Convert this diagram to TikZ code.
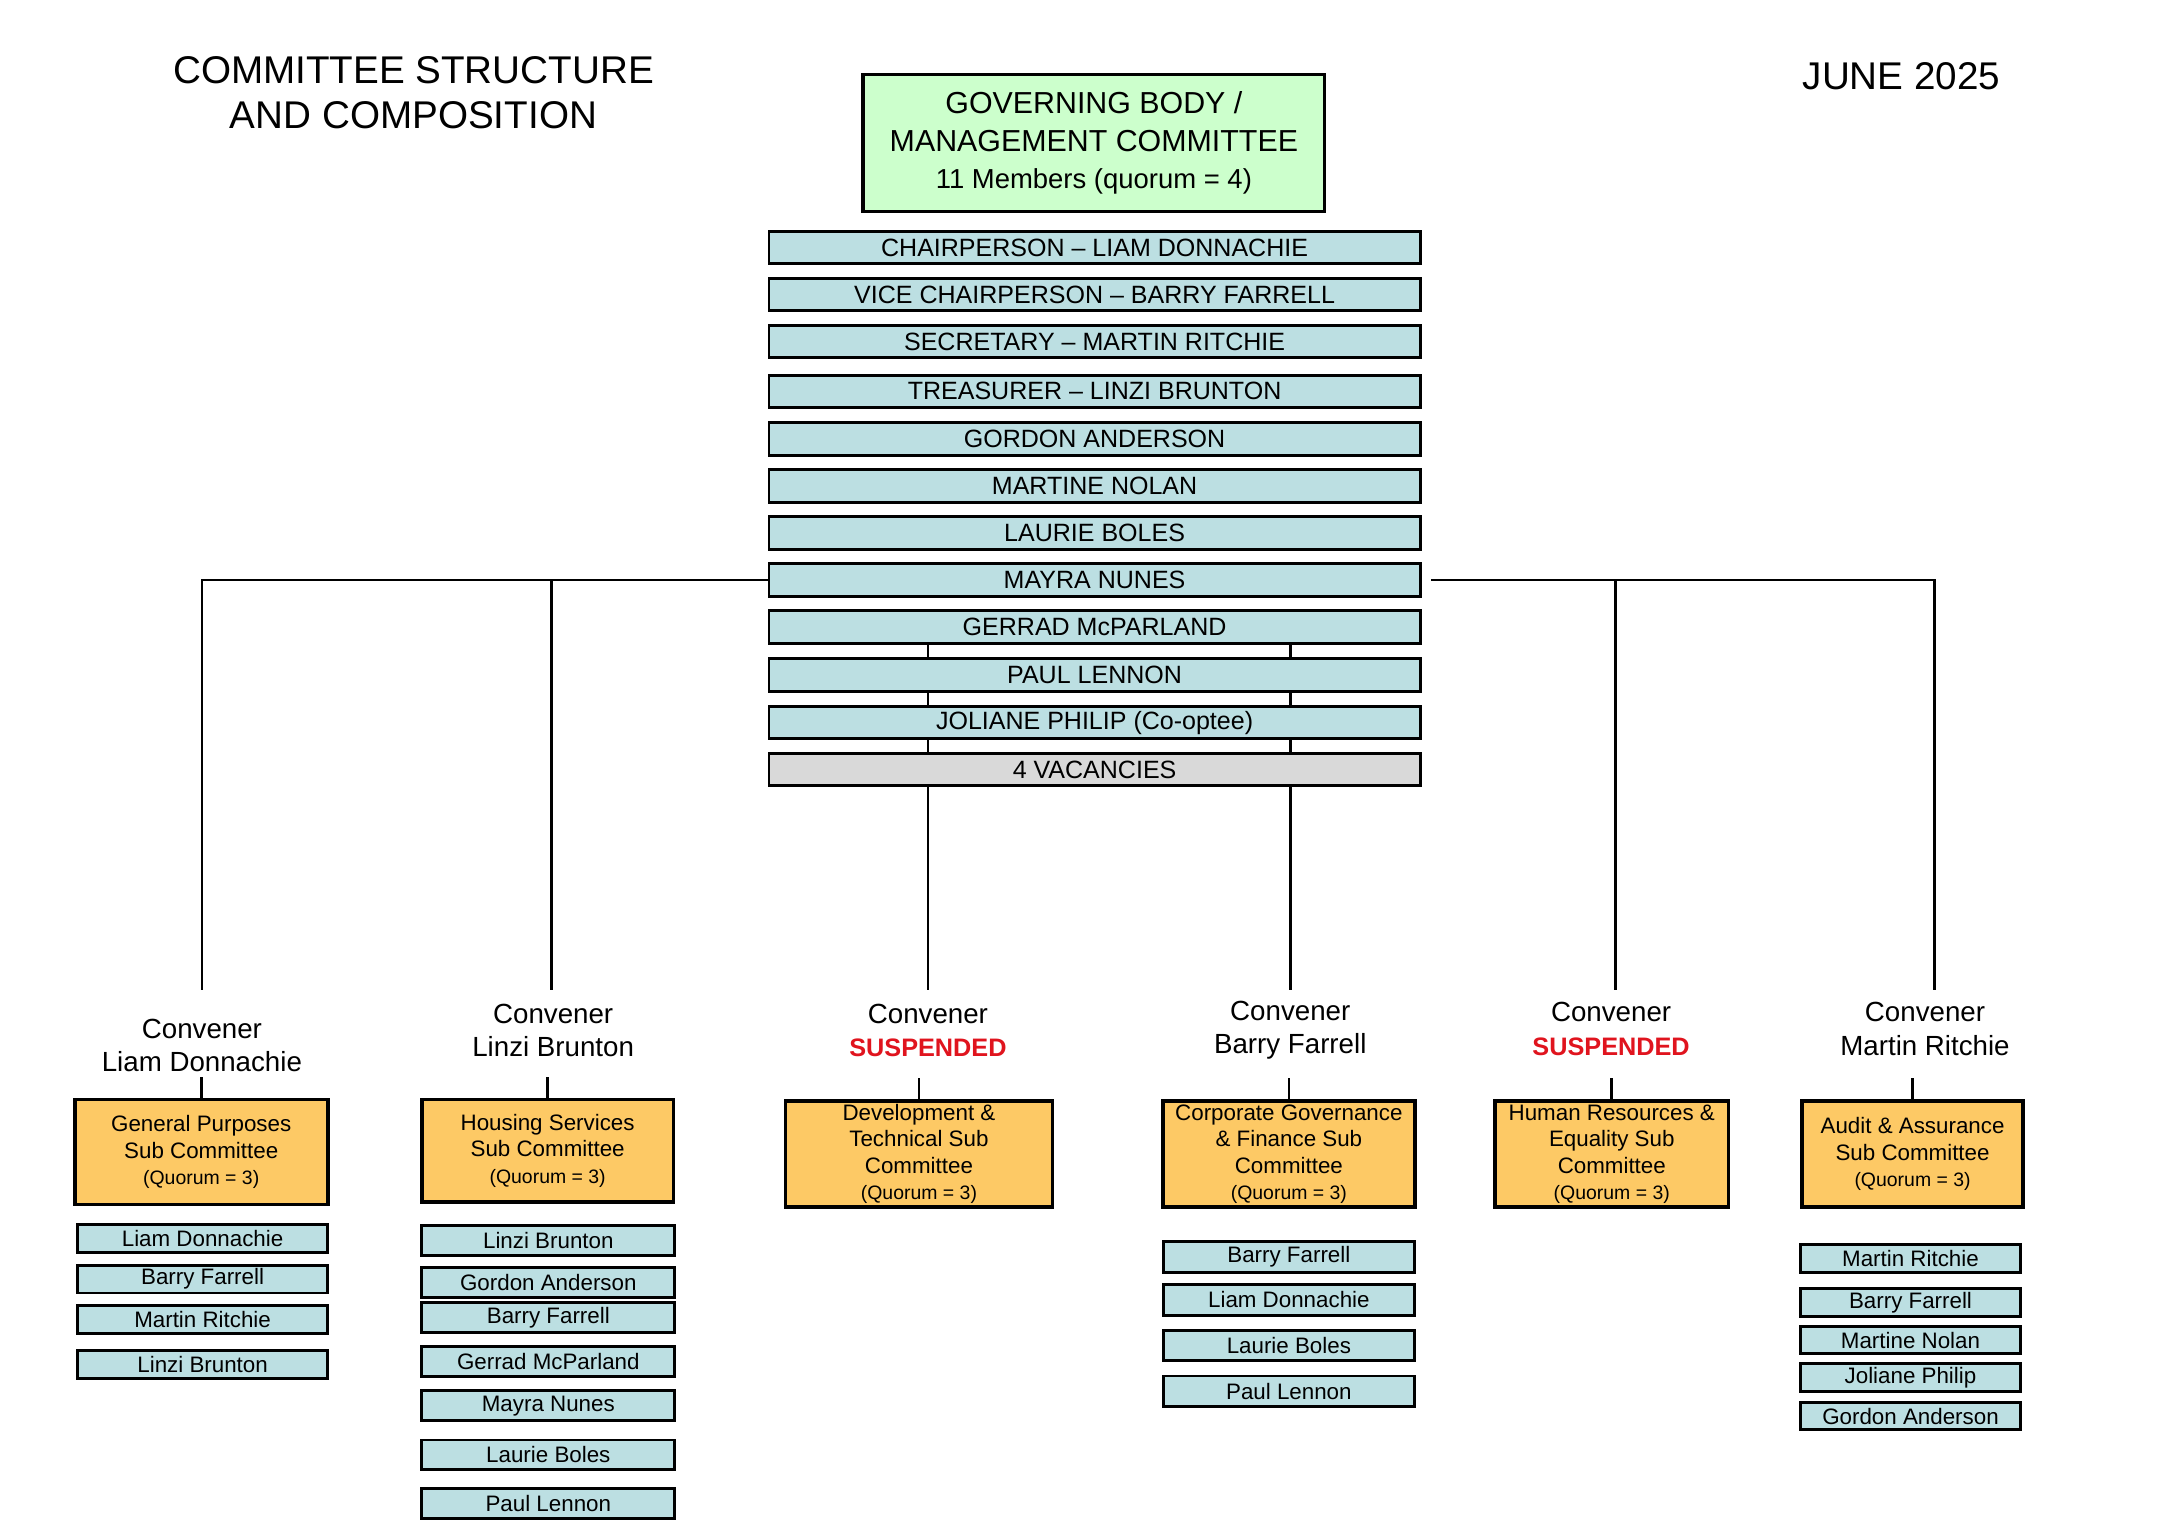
\documentclass[tikz,border=0pt]{standalone}
\usepackage{fontspec}
\setmainfont{Liberation Sans}
\usetikzlibrary{backgrounds}
\definecolor{govgreen}{HTML}{CCFFCC}
\definecolor{barblue}{HTML}{BCDFE2}
\definecolor{vacgrey}{HTML}{D9D9D9}
\definecolor{subgold}{HTML}{FDC965}
\definecolor{susred}{HTML}{E0141E}
\tikzset{
  govbox/.style={draw, line width=1.3pt, fill=govgreen, minimum width=6.68cm, minimum height=1.98cm, align=center, inner sep=0pt, font=\fontsize{12.5}{15.4}\selectfont},
  bar/.style={draw, line width=1.2pt, fill=barblue, minimum width=9.42cm, minimum height=0.47cm, inner sep=0pt, font=\fontsize{10.3}{12}\selectfont},
  subbox/.style={draw, line width=1.5pt, fill=subgold, align=center, inner sep=0pt, font=\fontsize{9.2}{10.9}\selectfont},
  member/.style={draw, line width=1.2pt, fill=barblue, inner sep=0pt, font=\fontsize{9.2}{11}\selectfont},
  convener/.style={align=center, font=\fontsize{11.4}{13.7}\selectfont},
  link/.style={line width=1.1pt},
}
\newcommand{\quorum}{{\fontsize{8}{10}\selectfont (Quorum = 3)}}
\newcommand{\suspended}{{\fontsize{10.4}{13.7}\selectfont\bfseries\color{susred}SUSPENDED}}

\begin{document}
\begin{tikzpicture}[x=0.02cm, y=-0.02cm]
	\useasboundingbox (0,0) rectangle (1567,1111);
	
	%%%%% HEADINGS %%%%%
	\node[align=center, font=\fontsize{15.9}{18.8}\selectfont] (title) at (299,67) {COMMITTEE STRUCTURE\\AND COMPOSITION};
	\node[font=\fontsize{15.9}{18.8}\selectfont] (date) at (1375,55) {JUNE 2025};
	
	%%%%% GOVERNING BODY %%%%%
	\node[govbox] (gov) at (791,103.5) {GOVERNING BODY /\\MANAGEMENT COMMITTEE\\{\fontsize{11.3}{13}\selectfont 11 Members (quorum = 4)}};
	
	\foreach \nm/\yy/\txt in {chair/179/{CHAIRPERSON -- LIAM DONNACHIE},
		vice/213/{VICE CHAIRPERSON -- BARRY FARRELL},
		secr/247/{SECRETARY -- MARTIN RITCHIE},
		treas/283/{TREASURER -- LINZI BRUNTON},
		gordon/317.5/{GORDON ANDERSON},
		martine/351.5/{MARTINE NOLAN},
		laurie/385.5/{LAURIE BOLES},
		mayra/419.5/{MAYRA NUNES},
		gerrad/453.5/{GERRAD McPARLAND},
		paul/488/{PAUL LENNON},
		joliane/522.5/{JOLIANE PHILIP (Co-optee)}}
		\node[bar] (\nm) at (791.5,\yy) {\txt};
	\node[bar, fill=vacgrey] (vacant) at (791.5,556.5) {4 VACANCIES};
	
	%%%%% CONVENERS %%%%%
	\node[convener] (conv1) at (146,756) {Convener\\Liam Donnachie};
	\node[convener] (conv2) at (400,745) {Convener\\Linzi Brunton};
	\node[convener] (conv3) at (671,745) {Convener\\\suspended};
	\node[convener] (conv4) at (933,745) {Convener\\Barry Farrell};
	\node[convener] (conv5) at (1165,744) {Convener\\\suspended};
	\node[convener] (conv6) at (1392,744) {Convener\\Martin Ritchie};
	
	\coordinate (t1) at (146,716);
	\coordinate (t2) at (399,716);
	\coordinate (t3) at (671,716);
	\coordinate (t4) at (933,716);
	\coordinate (t5) at (1168,716);
	\coordinate (t6) at (1399,716);
	\coordinate (rjoin) at (1035,419.5);
	
	%%%%% SUB COMMITTEES %%%%%
	\node[subbox, minimum width=3.66cm, minimum height=1.52cm] (s1) at (145.5,833) {General Purposes\\Sub Committee\\\quorum};
	\node[subbox, minimum width=3.64cm, minimum height=1.48cm] (s2) at (396,832) {Housing Services\\Sub Committee\\\quorum};
	\node[subbox, minimum width=3.86cm, minimum height=1.54cm] (s3) at (664.5,834.5) {Development \&\\Technical Sub\\Committee\\\quorum};
	\node[subbox, minimum width=3.64cm, minimum height=1.54cm] (s4) at (932,834.5) {Corporate Governance\\\& Finance Sub\\Committee\\\quorum};
	\node[subbox, minimum width=3.38cm, minimum height=1.54cm] (s5) at (1165.5,834.5) {Human Resources \&\\Equality Sub\\Committee\\\quorum};
	\node[subbox, minimum width=3.20cm, minimum height=1.54cm] (s6) at (1383,834.5) {Audit \& Assurance\\Sub Committee\\\quorum};
	
	%%%%% MEMBERS %%%%%
	\foreach \nm/\yy/\txt in {a1/895.5/{Liam Donnachie}, a2/925/{Barry Farrell}, a3/954/{Martin Ritchie}, a4/986.5/{Linzi Brunton}}
		\node[member, minimum width=3.62cm, minimum height=0.40cm] (\nm) at (146.5,\yy) {\txt};
	\foreach \nm/\yy/\txt in {b1/897/{Linzi Brunton}, b2/927.5/{Gordon Anderson}, b3/952.5/{Barry Farrell}, b4/984.5/{Gerrad McParland}, b5/1016.5/{Mayra Nunes}, b6/1052/{Laurie Boles}, b7/1087/{Paul Lennon}}
		\node[member, minimum width=3.66cm, minimum height=0.43cm] (\nm) at (396.5,\yy) {\txt};
	\foreach \nm/\yy/\txt in {d1/909/{Barry Farrell}, d2/940/{Liam Donnachie}, d3/973/{Laurie Boles}, d4/1006/{Paul Lennon}}
		\node[member, minimum width=3.64cm, minimum height=0.44cm] (\nm) at (932,\yy) {\txt};
	\foreach \nm/\yy/\txt in {f1/910/{Martin Ritchie}, f2/942/{Barry Farrell}, f3/969/{Martine Nolan}, f4/996/{Joliane Philip}, f5/1024/{Gordon Anderson}}
		\node[member, minimum width=3.18cm, minimum height=0.40cm] (\nm) at (1381.5,\yy) {\txt};
	
	%%%%% CONNECTORS %%%%%
	\begin{scope}[on background layer]
		\draw[link] (mayra.west) -| (t1);
		\draw[link] (mayra.west) -| (t2);
		\draw[link] (gerrad.south -| t3) -- (t3);
		\draw[link] (gerrad.south -| t4) -- (t4);
		\draw[link] (rjoin) -| (t5);
		\draw[link] (rjoin) -| (t6);
		\foreach \s in {s1,s2,s3,s4,s5,s6}
			\draw[link] (\s.north) -- ++(0,-15);
	\end{scope}
\end{tikzpicture}
\end{document}
